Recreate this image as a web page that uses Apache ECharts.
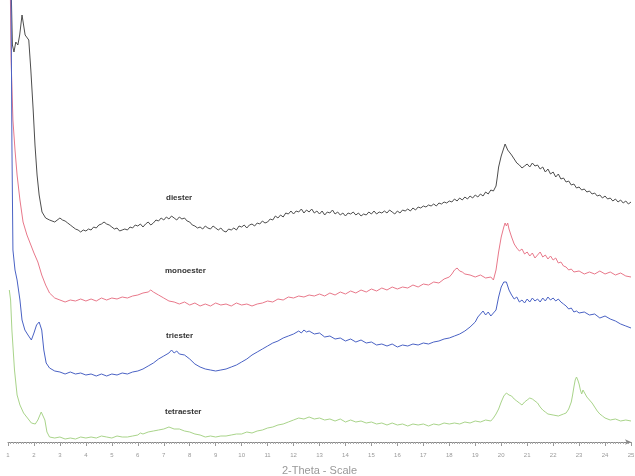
<!DOCTYPE html>
<html>
<head>
<meta charset="utf-8">
<script src="https://cdn.jsdelivr.net/npm/echarts@6/dist/echarts.min.js"></script>
<style>html,body{margin:0;padding:0;background:#fff}#c{width:635px;height:476px}</style>
</head>
<body>
<div id="c"></div>
<script>
// [2-Theta, offset intensity (arbitrary units)]
const diester = [[1.04,520],[1.10,480],[1.17,397],[1.23,390],[1.30,400],[1.38,397],[1.45,407],[1.54,427],[1.60,417],[1.66,407],[1.73,407],[1.80,402],[1.88,372],[1.97,332],[2.04,297],[2.12,267],[2.20,247],[2.31,230],[2.45,224],
[2.6,222],[2.8,220],[3.0,224],[3.1,222],[3.2,221],[3.3,219],[3.4,217],[3.5,215],[3.6,213],[3.7,212],[3.8,210],[3.9,212],[4.0,211],[4.1,213],[4.2,212],[4.3,215],[4.4,214],[4.5,217],[4.6,218],[4.7,220],[4.8,218],[4.9,217],[5.0,215],[5.1,213],[5.2,214],[5.3,211],[5.4,212],[5.5,213],[5.6,212],[5.7,215],[5.8,214],[5.9,217],[6.0,216],[6.1,218],[6.2,215],[6.3,218],[6.4,220],[6.5,217],[6.6,219],[6.7,222],[6.8,221],[6.9,224],[7.0,222],[7.1,225],[7.2,223],[7.3,226],[7.4,224],[7.5,222],[7.6,225],[7.7,223],[7.8,224],[7.9,221],[8.0,220],[8.1,217],[8.2,216],[8.3,214],[8.4,215],[8.5,213],[8.6,216],[8.7,214],[8.8,213],[8.9,216],[9.0,214],[9.1,212],[9.2,214],[9.3,211],[9.4,210],[9.5,213],[9.6,212],[9.7,214],[9.8,212],[9.9,216],[10.0,215],[10.1,217],[10.2,214],[10.3,217],[10.4,218],[10.5,216],[10.6,219],[10.7,218],[10.8,221],[10.9,219],[11.0,220],[11.1,223],[11.2,222],[11.3,226],[11.4,224],[11.5,227],[11.6,225],[11.7,229],[11.8,228],[11.9,231],[12.0,228],[12.1,231],[12.2,230],[12.3,233],[12.4,229],[12.5,232],[12.6,230],[12.7,233],[12.8,229],[12.9,231],[13.0,228],[13.1,231],[13.2,227],[13.3,230],[13.4,229],[13.5,232],[13.6,228],[13.7,230],[13.8,227],[13.9,229],[14.0,226],[14.1,229],[14.2,228],[14.3,230],[14.4,227],[14.5,229],[14.6,226],[14.7,228],[14.8,227],[14.9,230],[15.0,228],[15.1,231],[15.2,228],[15.3,230],[15.4,229],[15.5,231],[15.6,229],[15.7,232],[15.8,230],[15.9,228],[16.0,231],[16.1,229],[16.2,232],[16.3,231],[16.4,233],[16.5,231],[16.6,234],[16.7,232],[16.8,235],[16.9,234],[17.0,236],[17.1,235],[17.2,237],[17.3,236],[17.4,238],[17.5,236],[17.6,239],[17.7,238],[17.8,240],[17.9,239],[18.0,241],[18.1,240],[18.2,243],[18.3,241],[18.4,244],[18.5,242],[18.6,245],[18.7,243],[18.8,246],[18.9,244],[19.0,247],[19.1,245],[19.2,248],[19.3,246],[19.4,250],[19.5,248],[19.6,252],[19.7,251],[19.8,256],[19.85,265],[19.9,275],[20.0,286],[20.1,294],[20.15,298],[20.2,296],[20.25,292],[20.3,294],[20.4,287],[20.5,283],[20.6,279],[20.7,277],[20.8,274],[20.9,276],[21.0,278],[21.1,275],[21.2,279],[21.3,276],[21.4,277],[21.5,273],[21.6,275],[21.7,270],[21.8,273],[21.9,268],[22.0,270],[22.1,265],[22.2,268],[22.3,263],[22.4,264],[22.5,260],[22.6,261],[22.7,257],[22.8,258],[22.9,254],[23.0,255],[23.1,252],[23.2,253],[23.3,250],[23.4,251],[23.5,248],[23.6,249],[23.7,246],[23.8,247],[23.9,244],[24.0,246],[24.1,243],[24.2,244],[24.3,241],[24.4,243],[24.5,240],[24.6,242],[24.7,239],[24.8,241],[24.9,238],[25.0,240]];

const monoester = [[1.06,520],[1.12,382],[1.19,322],[1.27,292],[1.35,267],[1.46,242],[1.58,220],[1.73,207],[1.85,199],[2.0,189],[2.15,180],[2.3,167],[2.45,157],
[2.6,149],[2.8,144],[3.0,142],[3.2,140],[3.4,142],[3.6,141],[3.8,143],[4.0,141],[4.2,143],[4.4,141],[4.6,144],[4.8,142],[5.0,144],[5.2,143],[5.4,145],[5.6,144],[5.8,146],[6.0,147],[6.2,149],[6.4,150],[6.5,152],[6.6,150],[6.8,147],[7.0,144],[7.2,141],[7.4,140],[7.6,138],[7.8,140],[8.0,137],[8.2,139],[8.4,136],[8.6,138],[8.8,136],[9.0,139],[9.2,137],[9.4,138],[9.6,136],[9.8,139],[10.0,137],[10.2,138],[10.4,136],[10.6,138],[10.8,139],[11.0,141],[11.2,140],[11.4,143],[11.6,142],[11.8,145],[12.0,144],[12.2,146],[12.4,145],[12.6,147],[12.8,146],[13.0,148],[13.2,146],[13.4,149],[13.6,147],[13.8,150],[14.0,148],[14.2,151],[14.4,149],[14.6,152],[14.8,150],[15.0,153],[15.2,151],[15.4,154],[15.6,152],[15.8,155],[16.0,153],[16.2,155],[16.4,154],[16.6,157],[16.8,155],[17.0,158],[17.2,157],[17.4,160],[17.6,159],[17.8,163],[18.0,165],[18.1,168],[18.2,172],[18.3,174],[18.4,171],[18.5,170],[18.6,168],[18.8,167],[19.0,165],[19.2,167],[19.4,164],[19.6,165],[19.7,162],[19.8,172],[19.9,190],[20.0,205],[20.1,215],[20.15,219],[20.2,216],[20.25,219],[20.3,213],[20.4,205],[20.5,198],[20.6,194],[20.7,191],[20.8,193],[20.9,188],[21.0,190],[21.1,186],[21.2,189],[21.3,184],[21.4,187],[21.5,190],[21.6,185],[21.7,187],[21.8,183],[21.9,186],[22.0,182],[22.1,184],[22.2,179],[22.3,180],[22.4,176],[22.5,175],[22.6,172],[22.7,173],[22.8,170],[23.0,171],[23.2,168],[23.4,170],[23.6,168],[23.8,171],[24.0,168],[24.2,170],[24.4,167],[24.6,169],[24.8,166],[25.0,165]];

const triester = [[1.10,520],[1.15,300],[1.19,192],[1.27,172],[1.35,162],[1.46,142],[1.54,122],[1.65,112],[1.77,107],[1.9,102],[2.0,109],[2.1,117],[2.2,120],[2.3,112],[2.38,92],[2.47,79],
[2.6,74],[2.8,71],[3.0,70],[3.2,68],[3.4,70],[3.6,68],[3.8,69],[4.0,67],[4.2,68],[4.4,66],[4.6,68],[4.8,66],[5.0,68],[5.2,67],[5.4,69],[5.6,68],[5.8,70],[6.0,71],[6.2,73],[6.4,76],[6.6,79],[6.8,83],[7.0,86],[7.2,89],[7.3,92],[7.4,89],[7.5,91],[7.6,88],[7.8,87],[8.0,83],[8.2,78],[8.4,75],[8.6,73],[8.8,72],[9.0,71],[9.2,72],[9.4,73],[9.6,75],[9.8,77],[10.0,80],[10.2,83],[10.4,87],[10.6,90],[10.8,93],[11.0,96],[11.2,99],[11.4,101],[11.6,104],[11.8,106],[12.0,108],[12.2,111],[12.3,109],[12.4,112],[12.5,110],[12.6,111],[12.8,108],[13.0,109],[13.2,105],[13.4,106],[13.6,103],[13.8,104],[14.0,101],[14.2,103],[14.4,100],[14.6,102],[14.8,99],[15.0,100],[15.2,97],[15.4,98],[15.6,96],[15.8,98],[16.0,95],[16.2,97],[16.4,96],[16.6,98],[16.8,97],[17.0,99],[17.2,98],[17.4,100],[17.6,101],[17.8,103],[18.0,104],[18.2,106],[18.4,108],[18.6,111],[18.8,115],[19.0,120],[19.1,125],[19.2,128],[19.3,131],[19.4,127],[19.5,130],[19.6,126],[19.7,129],[19.8,132],[19.9,145],[20.0,155],[20.1,160],[20.15,158],[20.2,160],[20.3,152],[20.4,147],[20.5,143],[20.6,145],[20.7,140],[20.8,142],[20.9,139],[21.0,143],[21.1,140],[21.2,144],[21.3,141],[21.4,143],[21.5,140],[21.6,144],[21.7,141],[21.8,145],[21.9,142],[22.0,144],[22.1,141],[22.2,143],[22.3,140],[22.4,138],[22.5,136],[22.6,133],[22.7,134],[22.8,130],[22.9,131],[23.0,129],[23.2,130],[23.4,127],[23.6,128],[23.8,124],[24.0,126],[24.2,123],[24.4,121],[24.6,118],[24.8,116],[25.0,114]];

const tetraester = [[1.05,152],[1.10,142],[1.15,112],[1.25,72],[1.35,47],[1.46,37],[1.6,29],[1.75,24],[1.9,19],[2.05,18],[2.15,22],[2.28,30],[2.35,32],[2.42,22],[2.5,10],
[2.6,5],[2.8,4],[3.0,5],[3.2,3],[3.4,4],[3.6,3],[3.8,5],[4.0,4],[4.2,5],[4.4,4],[4.6,6],[4.8,5],[5.0,4],[5.2,6],[5.4,5],[5.6,5],[5.8,6],[6.0,7],[6.1,9],[6.2,8],[6.4,10],[6.6,11],[6.8,12],[7.0,13],[7.2,15],[7.4,13],[7.6,13],[7.8,11],[8.0,10],[8.2,8],[8.4,7],[8.6,5],[8.8,6],[9.0,5],[9.2,6],[9.4,6],[9.6,7],[9.8,8],[10.0,8],[10.2,10],[10.4,9],[10.6,11],[10.8,12],[11.0,14],[11.2,15],[11.4,17],[11.6,18],[11.8,20],[12.0,22],[12.2,24],[12.4,23],[12.6,25],[12.8,23],[13.0,24],[13.2,22],[13.4,23],[13.6,21],[13.8,23],[14.0,20],[14.2,22],[14.4,20],[14.6,21],[14.8,19],[15.0,20],[15.2,18],[15.4,19],[15.6,17],[15.8,19],[16.0,17],[16.2,18],[16.4,16],[16.6,18],[16.8,17],[17.0,18],[17.2,16],[17.4,18],[17.6,17],[17.8,19],[18.0,18],[18.2,19],[18.4,18],[18.6,20],[18.8,19],[19.0,21],[19.2,20],[19.4,22],[19.6,21],[19.7,24],[19.8,28],[19.9,33],[20.0,40],[20.1,46],[20.2,49],[20.3,47],[20.4,46],[20.5,43],[20.6,41],[20.7,39],[20.8,37],[20.9,40],[21.0,42],[21.1,44],[21.2,43],[21.3,41],[21.4,39],[21.5,35],[21.6,32],[21.7,30],[21.8,28],[22.0,27],[22.2,26],[22.4,28],[22.5,29],[22.6,33],[22.7,40],[22.75,47],[22.8,55],[22.85,62],[22.9,65],[22.95,62],[23.0,58],[23.05,52],[23.1,48],[23.15,52],[23.2,50],[23.3,45],[23.4,42],[23.5,39],[23.6,35],[23.7,31],[23.8,28],[23.9,26],[24.0,24],[24.2,22],[24.4,23],[24.6,21],[24.8,22],[25.0,21]];

const names = ['diester','monoester','triester','tetraester'];
const colors = ['#4d4d4d','#e8788a','#4a62c4','#a9d48a'];
const datasets = [diester, monoester, triester, tetraester];

const chart = echarts.init(document.getElementById('c'));
const series = names.map((n, k) => ({
  name: n, type: 'line', showSymbol: false, clip: true,
  data: datasets[k],
  lineStyle: {width: 1, color: colors[k]}, itemStyle: {color: colors[k]}
}));
const labelPos = [[166,194],[165,267],[166,332],[165,408]];
chart.setOption({
  animation: false,
  backgroundColor: '#fff',
  grid: {left: 8, right: 4, top: 0, bottom: 34, outerBoundsMode: 'none', containLabel: false},
  xAxis: {
    type: 'value', min: 1, max: 25, interval: 1,
    name: '2-Theta - Scale', nameLocation: 'middle', nameGap: 23,
    nameTextStyle: {fontSize: 11, color: '#999', fontFamily: 'Liberation Sans'},
    axisLine: {lineStyle: {color: '#888', width: 1}, symbol: ['none','arrow'], symbolSize: [4,6]},
    axisTick: {length: 4, lineStyle: {color: '#999'}},
    minorTick: {show: true, splitNumber: 10, length: 2, lineStyle: {color: '#aaa'}},
    axisLabel: {fontSize: 6, color: '#999', margin: 10},
    splitLine: {show: false}
  },
  yAxis: {type: 'value', min: 0, max: 442, show: false, splitLine: {show: false}},
  series: series,
  graphic: names.map((n, k) => ({
    type: 'text', left: labelPos[k][0], top: labelPos[k][1],
    style: {text: n, fontSize: 8, fontWeight: 'bold', fill: '#333', fontFamily: 'Liberation Sans'}
  }))
});
</script>
</body>
</html>
